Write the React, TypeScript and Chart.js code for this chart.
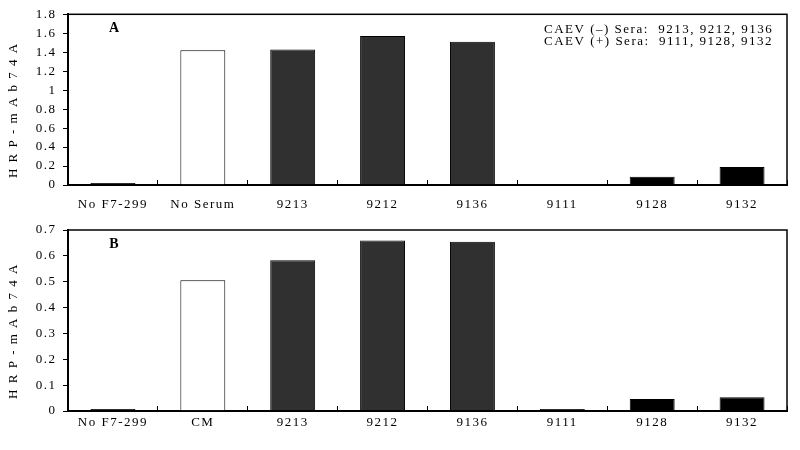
import React, { useEffect, useRef } from 'react';
import { Chart, registerables } from 'chart.js';
Chart.register(...registerables);

const categoriesA = ['No F7-299', 'No Serum', '9213', '9212', '9136', '9111', '9128', '9132'];
const categoriesB = ['No F7-299', 'CM', '9213', '9212', '9136', '9111', '9128', '9132'];
const valuesA = [0.02, 1.42, 1.43, 1.57, 1.51, 0, 0.088, 0.19];
const valuesB = [0.008, 0.506, 0.583, 0.659, 0.655, 0.008, 0.046, 0.053];
const yTicksA = [0, 0.2, 0.4, 0.6, 0.8, 1, 1.2, 1.4, 1.6, 1.8];
const yTicksB = [0, 0.1, 0.2, 0.3, 0.4, 0.5, 0.6, 0.7];
const barColors = ['#000000', '#ffffff', '#303030', '#303030', '#303030', '#000000', '#000000', '#000000'];
const notesA = ['CAEV (\u2013) Sera:  9213, 9212, 9136', 'CAEV (+) Sera:  9111, 9128, 9132'];
const notesB: string[] = [];
const yTitle = 'H R P - m A b 7 4 A';

const FONT = '"Liberation Serif", "Times New Roman", serif';
const SPACING = '1.5px';

const spacingPlugin = {
  id: 'spacing',
  beforeUpdate(chart: any) { chart.ctx.letterSpacing = SPACING; },
  beforeDraw(chart: any) { chart.ctx.letterSpacing = SPACING; },
};

const overlayPlugin = {
  id: 'overlay',
  afterDraw(chart: any) {
    const o = chart.options.plugins.overlay;
    const { ctx } = chart;
    const { left, top, right, bottom } = chart.chartArea;
    ctx.save();
    ctx.strokeStyle = '#000';
    ctx.lineWidth = 1.5;
    ctx.strokeRect(left, top, right - left, bottom - top);
    ctx.fillStyle = '#000';
    ctx.font = `bold 14px ${FONT}`;
    ctx.textAlign = 'center';
    ctx.textBaseline = 'alphabetic';
    ctx.letterSpacing = '0px';
    ctx.fillText(o.label, left + 46, top + 17.5);
    ctx.letterSpacing = SPACING;
    ctx.font = `13px ${FONT}`;
    ctx.textAlign = 'left';
    o.notes.forEach((t: string, i: number) => ctx.fillText(t, right - 243, top + 19 + i * 11.5));
    ctx.translate(13.5, (top + bottom) / 2 + 10.5);
    ctx.rotate(-Math.PI / 2);
    ctx.textAlign = 'center';
    ctx.textBaseline = 'middle';
    ctx.fillText(o.yTitle, 0, 0);
    ctx.restore();
  },
};

type PanelProps = {
  categories: string[];
  values: number[];
  yTicks: number[];
  label: string;
  notes: string[];
  top: number;
  height: number;
  padTop: number;
  xAxisH: number;
  xPad: number;
};

function Panel(p: PanelProps) {
  const ref = useRef<HTMLCanvasElement>(null);
  useEffect(() => {
    const canvas = ref.current!;
    const yMax = p.yTicks[p.yTicks.length - 1];
    const chart = new Chart(canvas, {
      type: 'bar',
      data: {
        labels: p.categories,
        datasets: [{
          data: p.values,
          backgroundColor: barColors,
          borderColor: '#000',
          borderWidth: 1,
          barPercentage: 0.5,
          categoryPercentage: 1,
        }],
      },
      plugins: [spacingPlugin, overlayPlugin],
      options: {
        responsive: false,
        animation: false,
        devicePixelRatio: 1,
        layout: { padding: { top: p.padTop, right: 13, left: 0, bottom: 0 } },
        plugins: {
          legend: { display: false },
          tooltip: { enabled: false },
          overlay: { label: p.label, notes: p.notes, yTitle },
        } as any,
        scales: {
          x: {
            grid: { display: true, drawOnChartArea: false, drawTicks: true, tickLength: -5, offset: true, color: '#000', lineWidth: 1 },
            border: { display: true, color: '#000', width: 2 },
            ticks: { color: '#000', font: { family: FONT, size: 13 }, padding: p.xPad, autoSkip: false, maxRotation: 0 },
            afterFit: (s: any) => { s.height = p.xAxisH; },
          },
          y: {
            min: 0,
            max: yMax,
            afterBuildTicks: (s: any) => { s.ticks = p.yTicks.map((v) => ({ value: v })); },
            grid: { display: true, drawOnChartArea: false, drawTicks: true, tickLength: 5, color: '#000', lineWidth: 1 },
            border: { display: true, color: '#000', width: 2 },
            ticks: { color: '#000', font: { family: FONT, size: 13 }, padding: 6.5, callback: (v: any) => String(v) },
            afterFit: (s: any) => { s.width = 68; },
          },
        },
      } as any,
    });
    return () => chart.destroy();
  }, []);
  return (
    <canvas
      ref={ref}
      width={800}
      height={p.height}
      style={{ position: 'absolute', left: 0, top: p.top }}
    />
  );
}

export default function App() {
  return (
    <div style={{ position: 'fixed', left: 0, top: 0, width: 800, height: 450, background: '#fff', overflow: 'hidden' }}>
      <Panel categories={categoriesA} values={valuesA} yTicks={yTicksA} label="A" notes={notesA}
        top={0} height={215} padTop={12} xAxisH={30} xPad={16.5} />
      <Panel categories={categoriesB} values={valuesB} yTicks={yTicksB} label="B" notes={notesB}
        top={215} height={235} padTop={15} xAxisH={39} xPad={8.5} />
    </div>
  );
}
